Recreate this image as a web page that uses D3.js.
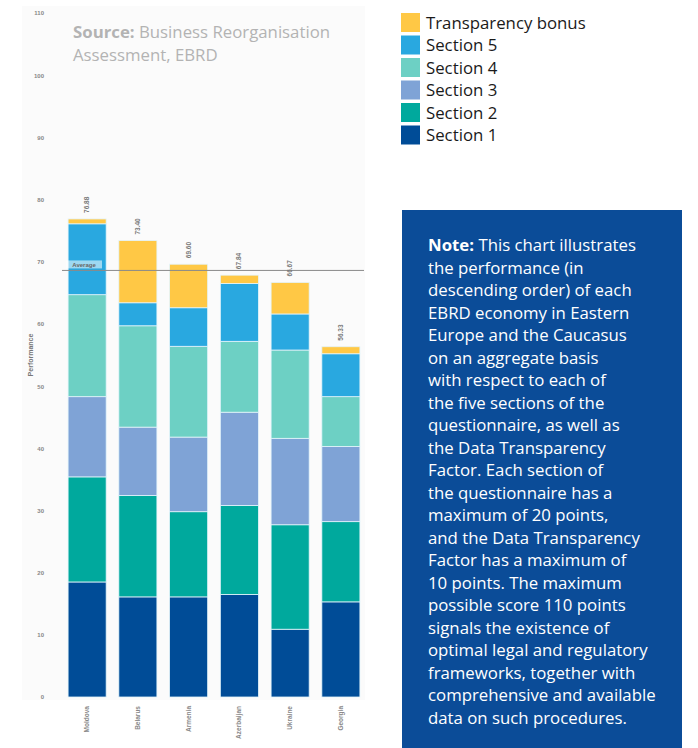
<!DOCTYPE html>
<html><head><meta charset="utf-8">
<script src="https://cdn.jsdelivr.net/npm/d3@7"></script>
<style>body{margin:0;background:#fff;} svg{display:block;}</style>
</head><body>
<script>
const countries = ["Moldova","Belarus","Armenia","Azerbaijan","Ukraine","Georgia"];
const section1 = [18.5, 16.1, 16.1, 16.5, 10.9, 15.3];
const section2 = [16.9, 16.3, 13.7, 14.3, 16.8, 12.9];
const section3 = [12.9, 11.0, 12.0, 15.0, 13.9, 12.1];
const section4 = [16.4, 16.3, 14.6, 11.4, 14.2, 8.0];
const section5 = [11.4, 3.7, 6.2, 9.3, 5.8, 6.9];
const bonus = [0.78, 10.0, 7.0, 1.34, 5.07, 1.13];
const totalLabels = ["76.88","73.40","69.60","67.84","66.67","56.33"];
const averageValue = 68.6;
const yTicks = [0,10,20,30,40,50,60,70,80,90,100,110];
const seriesNames = ["Section 1","Section 2","Section 3","Section 4","Section 5","Transparency bonus"];
const seriesColors = ["#004C97","#00A99D","#7FA3D6","#6DD0C4","#29A8E0","#FFC845"];
const noteLines = ["This chart illustrates","the performance (in","descending order) of each","EBRD economy in Eastern","Europe and the Caucasus","on an aggregate basis","with respect to each of","the five sections of the","questionnaire, as well as","the Data Transparency","Factor. Each section of","the questionnaire has a","maximum of 20 points,","and the Data Transparency","Factor has a maximum of","10 points. The maximum","possible score 110 points","signals the existence of","optimal legal and regulatory","frameworks, together with","comprehensive and available","data on such procedures."];

const W=698,H=748;
const svg=d3.select("body").append("svg").attr("width",W).attr("height",H);
const font="'Liberation Sans', Arial, sans-serif";
const font2="'Open Sans', 'Noto Sans', sans-serif";
const fs2=16.8;

svg.append("rect").attr("x",22).attr("y",6).attr("width",343).attr("height",694).attr("fill","#fbfbfb");

const x=d3.scaleBand().domain(countries).range([62,366]).paddingInner(0.25).paddingOuter(0.12);
const y=d3.scaleLinear().domain([0,110]).range([697,13]);

const yAxis=svg.append("g").attr("transform","translate(56,0)")
  .call(d3.axisLeft(y).tickValues(yTicks).tickSize(0).tickPadding(12));
yAxis.select(".domain").remove();
yAxis.selectAll("text").attr("font-family",font).attr("font-size",6).attr("fill","#888").attr("font-weight","bold");
svg.append("text").attr("transform","translate(33,355) rotate(-90)").attr("text-anchor","middle")
  .attr("font-family",font).attr("font-size",7).attr("font-weight","bold").attr("fill","#777").text("Performance");

const data=countries.map((c,i)=>({country:c,s1:section1[i],s2:section2[i],s3:section3[i],s4:section4[i],s5:section5[i],b:bonus[i]}));
const keys=["s1","s2","s3","s4","s5","b"];
const stacked=d3.stack().keys(keys)(data);

svg.append("g").selectAll("g").data(stacked).join("g").attr("fill",(d,i)=>seriesColors[i])
 .selectAll("rect").data(d=>d).join("rect")
 .attr("x",d=>x(d.data.country)).attr("width",x.bandwidth())
 .attr("y",d=>y(d[1])).attr("height",d=>y(d[0])-y(d[1]))
 .attr("stroke","#e3f4fb").attr("stroke-width",0.8);

svg.append("line").attr("x1",62).attr("x2",364).attr("y1",y(averageValue)).attr("y2",y(averageValue))
  .attr("stroke","#8a8a8a").attr("stroke-width",1);
svg.append("rect").attr("x",66).attr("y",y(averageValue)-10).attr("width",36).attr("height",8).attr("fill","#ffffff").attr("opacity",0.55);
svg.append("text").attr("x",84).attr("y",y(averageValue)-3.5).attr("text-anchor","middle")
  .attr("font-family",font).attr("font-size",6).attr("font-weight","bold").attr("fill","#666").text("Average");

const totals=data.map(d=>keys.reduce((s,k)=>s+d[k],0));
svg.append("g").selectAll("text").data(countries).join("text")
 .attr("transform",(c,i)=>`translate(${x(c)+x.bandwidth()/2+2},${y(totals[i])-6}) rotate(-90)`)
 .attr("font-family",font).attr("font-size",6.5).attr("font-weight","bold").attr("fill","#777")
 .text((c,i)=>totalLabels[i]);

svg.append("g").selectAll("text").data(countries).join("text")
 .attr("transform",c=>`translate(${x(c)+x.bandwidth()/2+2},706) rotate(-90)`)
 .attr("text-anchor","end")
 .attr("font-family",font).attr("font-size",6.5).attr("font-weight","bold").attr("fill","#888")
 .text(c=>c);

const src=svg.append("text").attr("x",73).attr("y",38).attr("font-family",font2).attr("font-size",fs2).attr("fill","#b3b3b3");
src.append("tspan").attr("font-weight","bold").text("Source:");
src.append("tspan").text(" Business Reorganisation");
svg.append("text").attr("x",73).attr("y",61).attr("font-family",font2).attr("font-size",fs2).attr("fill","#b3b3b3").text("Assessment, EBRD");

const legendOrder=[5,4,3,2,1,0];
const lg=svg.append("g");
legendOrder.forEach((si,j)=>{
  const yy=13+j*22.5;
  lg.append("rect").attr("x",401).attr("y",yy).attr("width",19).attr("height",19).attr("fill",seriesColors[si]);
  lg.append("text").attr("x",426).attr("y",yy+15.5).attr("font-family",font2).attr("font-size",fs2).attr("fill","#1a1a1a").text(seriesNames[si]);
});

svg.append("rect").attr("x",402).attr("y",210).attr("width",280).attr("height",538).attr("fill","#0B4C98");
const nt=svg.append("g").attr("font-family",font2).attr("font-size",fs2).attr("fill","#ffffff");
noteLines.forEach((l,i)=>{
  const t=nt.append("text").attr("x",428).attr("y",251+i*22.5);
  if(i===0){t.append("tspan").attr("font-weight","bold").text("Note: ");}
  t.append("tspan").text(l);
});
</script>
</body></html>
